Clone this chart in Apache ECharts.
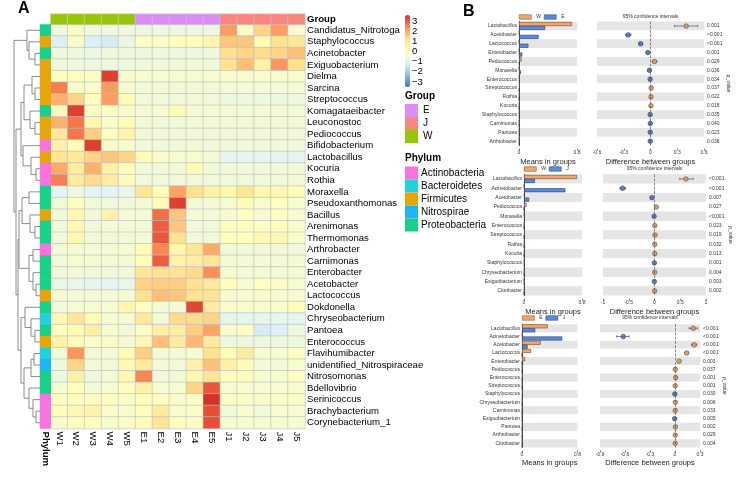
<!DOCTYPE html>
<html>
<head>
<meta charset="utf-8">
<script src="https://cdn.jsdelivr.net/npm/echarts@6/dist/echarts.min.js"></script>
<style>
html, body { margin: 0; padding: 0; background: #fff; }
#main { width: 743px; height: 479px; }
</style>
</head>
<body>
<div id="main"></div>
<script>
var chartDom = document.getElementById('main');
var myChart = echarts.init(chartDom);

// ---------- panel A data ----------
var samples = ['W1','W2','W3','W4','W5','E1','E2','E3','E4','E5','J1','J2','J3','J4','J5'];
var sampleGroup = [2,2,2,2,2,0,0,0,0,0,1,1,1,1,1];   // index into groupNames
var groupNames = ['E','J','W'];
var phylumNames = ['Actinobacteria','Bacteroidetes','Firmicutes','Nitrospirae','Proteobacteria'];

var genera = ['Candidatus_Nitrotoga','Staphylococcus','Acinetobacter','Exiguobacterium','Dielma','Sarcina',
  'Streptococcus','Komagataeibacter','Leuconostoc','Pediococcus','Bifidobacterium','Lactobacillus','Kocuria',
  'Rothia','Moraxella','Pseudoxanthomonas','Bacillus','Arenimonas','Thermomonas','Arthrobacter','Carnimonas',
  'Enterobacter','Acetobacter','Lactococcus','Dokdonella','Chryseobacterium','Pantoea','Enterococcus',
  'Flavihumibacter','unidentified_Nitrospiraceae','Nitrosomonas','Bdellovibrio','Serinicoccus',
  'Brachybacterium','Corynebacterium_1'];
var generaPhylum = [4,2,4,2,2,2,2,4,2,2,0,2,0,0,4,4,2,4,4,0,4,4,4,2,4,1,4,2,1,3,4,4,0,0,0];

// z-scores, columns W1..W5, E1..E5, J1..J5
var zscore = [
  [-0.6,-0.1,-0.6,-0.6,-0.6, -0.6,-0.6,-0.6,-0.6,-0.6, 2.2,-0.1,1.4,2.2,-0.3],
  [-1.2,-0.2,-1.2,-1.3,-0.7, 0.0,-0.1,0.1,0.1,0.4, 1.6,1.6,0.2,1.2,1.0],
  [-0.6,-0.6,-0.7,-0.6,-0.6, -0.6,-0.6,-0.6,-0.6,-0.6, 1.2,1.4,1.3,1.4,1.7],
  [-0.6,-0.6,-0.6,-0.6,-0.6, -0.5,-0.5,-0.5,-0.5,-0.5, 1.1,1.7,0.6,2.3,1.2],
  [0.0,0.0,-0.1,3.4,-0.2, -0.3,-0.3,-0.3,-0.3,-0.3, -0.2,-0.2,-0.2,-0.2,-0.2],
  [2.6,-0.1,-0.2,2.2,-0.3, -0.5,-0.5,-0.5,-0.5,-0.5, -0.4,-0.4,-0.4,-0.4,-0.4],
  [1.9,1.4,0.0,2.2,0.2, -0.5,-0.5,-0.5,-0.5,-0.5, -0.6,-0.6,-0.6,-0.6,-0.6],
  [0.2,3.4,0.0,0.0,-0.2, -0.4,-0.3,0.2,-0.4,-0.4, -0.4,-0.4,-0.4,-0.4,-0.4],
  [1.9,2.7,0.4,-0.1,0.2, -0.5,-0.5,-0.5,-0.5,-0.5, -0.5,-0.5,-0.5,-0.5,-0.5],
  [1.0,2.7,1.5,0.0,0.5, -0.5,-0.5,-0.5,-0.5,-0.5, -0.5,-0.5,-0.5,-0.5,-0.5],
  [0.6,0.1,3.4,-0.2,-0.2, -0.5,-0.5,-0.5,-0.5,-0.5, -0.5,-0.5,-0.5,-0.5,-0.5],
  [1.0,0.9,1.4,1.6,1.4, 0.2,-0.2,-0.3,-0.3,-0.4, -0.9,-0.9,-0.9,-0.9,-1.0],
  [2.0,0.7,1.9,0.6,0.1, -0.5,-0.5,-0.5,0.2,-0.5, -0.5,-0.5,-0.5,-0.5,-0.5],
  [2.6,0.8,1.3,0.7,0.2, -0.5,-0.5,-0.5,-0.5,-0.5, -0.5,-0.5,-0.5,-0.5,-0.5],
  [-1.0,-0.6,-1.0,-1.0,-0.8, 1.0,0.2,2.1,1.2,0.6, 0.4,1.0,0.4,0.3,0.2],
  [-0.5,0.1,-0.5,-0.5,-0.5, -0.4,0.2,3.4,-0.4,-0.4, -0.3,0.2,-0.3,0.0,-0.3],
  [-0.5,0.4,-0.5,0.5,-0.4, -0.4,2.8,1.6,-0.4,-0.4, -0.3,0.0,-0.3,0.0,-0.3],
  [-0.5,0.3,-0.5,-0.4,-0.4, -0.4,3.0,1.6,-0.5,-0.5, 0.0,0.0,0.0,0.1,-0.2],
  [-0.5,0.4,-0.5,-0.5,-0.5, -0.5,3.1,1.2,-0.5,-0.5, 0.1,0.1,0.3,0.3,-0.2],
  [-0.4,-0.4,-0.4,-0.4,-0.3, 0.2,2.5,0.4,1.0,2.0, -0.5,-0.5,-0.5,-0.5,-0.5],
  [-0.4,-0.3,-0.4,-0.4,-0.4, 0.2,3.0,0.6,0.7,1.0, -0.4,-0.4,-0.4,-0.4,-0.4],
  [-0.5,-0.5,-0.5,-0.5,-0.5, 1.0,1.1,1.1,1.3,2.4, -0.3,-0.4,-0.4,-0.4,-0.4],
  [-0.8,-0.8,-0.9,-0.9,-0.8, 1.4,1.5,1.5,1.2,0.9, 0.1,-0.3,0.0,-0.1,-0.3],
  [-0.4,-0.4,-0.4,-0.4,-0.4, 1.2,1.7,1.6,1.1,1.1, -0.3,-0.3,-0.3,-0.3,-0.3],
  [-0.4,-0.3,-0.3,-0.3,0.4, 0.0,-0.4,-0.4,3.3,0.8, -0.2,-0.2,-0.2,-0.2,0.2],
  [0.3,1.0,0.2,-0.3,-0.3, 0.9,-0.4,1.3,1.3,1.4, -0.9,-0.9,-0.9,-0.9,-0.9],
  [0.1,0.2,0.7,-0.3,-0.5, -0.1,0.7,0.7,1.5,2.1, -0.3,0.0,-1.3,-1.2,-0.6],
  [0.6,0.2,-0.1,-0.2,-0.4, 0.3,1.7,0.8,1.8,0.8, -0.6,-0.6,-0.6,-0.6,-0.6],
  [-0.4,2.3,-0.4,-0.4,0.2, 1.5,-0.4,-0.4,-0.3,1.2, 0.2,0.8,-0.3,-0.3,0.0],
  [-0.6,1.4,-0.5,-0.5,0.3, 0.9,-0.4,-0.5,0.6,1.7, 0.6,0.2,-0.4,-0.4,-0.2],
  [-0.6,0.6,-0.6,-0.4,0.4, 2.5,-0.5,-0.5,0.4,1.0, 0.1,0.2,-0.3,-0.3,0.0],
  [-0.3,0.1,-0.4,-0.3,0.1, 0.6,-0.3,-0.3,1.4,3.1, -0.3,-0.3,-0.3,-0.3,-0.3],
  [0.0,0.1,0.0,0.0,-0.1, 0.1,0.0,-0.2,0.0,3.6, -0.1,-0.1,-0.2,-0.1,-0.1],
  [0.1,0.3,0.5,-0.1,-0.2, 0.1,0.8,-0.2,-0.1,3.2, -0.5,-0.2,-0.5,-0.3,-0.3],
  [-0.2,0.1,0.1,-0.2,-0.1, 0.2,1.0,0.1,-0.1,3.2, -0.3,-0.3,-0.3,-0.3,-0.3]
];

// row dendrogram: [child, child, height]; 'rN' = row N, 'mN' = merge N
var merges = [
  ['r2','r3',5], ['r1','m0',11], ['r0','m1',13],
  ['r5','r6',5], ['r4','m3',8], ['r8','r9',5], ['r7','m5',10], ['m4','m6',16],
  ['r12','r13',4], ['r11','m8',9], ['r10','m9',17], ['m7','m10',19],
  ['r14','r15',11], ['r17','r18',5], ['r16','m13',10], ['m12','m14',18],
  ['r19','r20',7], ['r22','r23',4], ['r21','m17',7], ['m16','m18',11], ['m15','m19',21],
  ['r26','r27',5], ['r25','m21',9], ['r24','m22',15],
  ['r28','r29',6], ['m24','r30',9], ['r33','r34',4], ['r32','m26',7], ['r31','m27',11],
  ['m25','m28',16], ['m23','m29',19], ['m20','m30',22], ['m11','m31',24], ['m2','m32',26]
];

var heatTicks = [-3, 3];

// ---------- panel B data ----------
var b1Taxa = ['Lactobacillus','Acetobacter','Lactococcus','Enterobacter','Pediococcus','Moraxella','Enterococcus',
  'Streptococcus','Rothia','Kocuria','Staphylococcus','Carnimonas','Pantoea','Arthrobacter'];
var b1MeanW = [0.73,0.004,0.003,0.003,0.035,0.002,0.003,0.012,0.006,0.006,0.003,0.002,0.002,0.002];
var b1MeanE = [0.36,0.27,0.13,0.045,0.005,0.025,0.01,0.003,0.001,0.001,0.008,0.004,0.006,0.005];
var b1Diff = [0.40,-0.25,-0.11,-0.03,0.045,-0.012,-0.004,0.008,0.005,0.005,-0.004,-0.002,-0.003,-0.003];
var b1Lo = [0.27,-0.28,-0.13,-0.04,0.02,-0.02,-0.01,0.0,0.0,0.0,-0.01,-0.007,-0.008,-0.008];
var b1Hi = [0.53,-0.22,-0.09,-0.02,0.07,-0.004,0.002,0.016,0.01,0.01,0.002,0.003,0.002,0.002];
var b1P = ['0.001','<0.001','<0.001','0.001','0.029','0.036','0.034','0.037','0.022','0.018','0.035','0.040','0.023','0.036'];

var b2Taxa = ['Lactobacillus','Acinetobacter','Acetobacter','Pediococcus','Moraxella','Enterococcus','Streptococcus',
  'Rothia','Kocuria','Staphylococcus','Chryseobacterium','Exiguobacterium','Citrobacter'];
var b2MeanW = [0.73,0.003,0.006,0.035,0.002,0.005,0.012,0.006,0.006,0.003,0.004,0.001,0.004];
var b2MeanJ = [0.15,0.57,0.07,0.002,0.01,0.001,0.001,0.001,0.001,0.006,0.001,0.005,0.001];
var b2Diff = [0.61,-0.62,-0.05,0.035,-0.008,0.005,0.01,0.005,0.005,-0.003,0.004,-0.004,0.003];
var b2Lo = [0.49,-0.67,-0.08,0.02,-0.015,0.0,0.0,0.0,0.0,-0.008,-0.001,-0.009,-0.002];
var b2Hi = [0.75,-0.56,-0.03,0.05,-0.002,0.01,0.02,0.01,0.01,0.002,0.009,0.001,0.008];
var b2P = ['<0.001','<0.001','0.007','0.027','<0.001','0.023','0.019','0.032','0.013','0.001','0.004','0.003','0.002'];

var b3Taxa = ['Lactobacillus','Acinetobacter','Acetobacter','Lactococcus','Enterobacter','Pediococcus','Enterococcus',
  'Streptococcus','Staphylococcus','Chryseobacterium','Carnimonas','Exiguobacterium','Pantoea','Arthrobacter','Citrobacter'];
var b3MeanE = [0.37,0.005,0.27,0.13,0.045,0.004,0.01,0.003,0.008,0.004,0.004,0.001,0.006,0.005,0.003];
var b3MeanJ = [0.19,0.58,0.08,0.002,0.001,0.001,0.001,0.001,0.006,0.001,0.001,0.005,0.001,0.001,0.001];
var b3Diff = [0.22,-0.62,0.23,0.14,0.05,0.003,0.008,0.003,-0.002,0.004,0.003,-0.004,0.005,0.004,0.003];
var b3Lo = [0.17,-0.70,0.20,0.12,0.04,-0.003,0.0,-0.003,-0.008,-0.002,-0.003,-0.009,-0.001,-0.002,-0.003];
var b3Hi = [0.27,-0.55,0.26,0.16,0.06,0.009,0.016,0.009,0.004,0.01,0.009,0.001,0.011,0.01,0.009];
var b3P = ['<0.001','<0.001','<0.001','<0.001','0.003','0.037','0.001','0.001','0.030','0.006','0.033','0.005','0.002','0.029','0.004'];

// ---------- styles ----------
var heatColors = ['#4575B4','#91BFDB','#E0F3F8','#FFFFBF','#FEE090','#FC8D59','#D73027'];
var groupColors = ['#DA8EF3','#F7877F','#97C50C'];
var phylumColors = ['#F873DE','#20D2DE','#E6A60B','#1CB5F7','#18D189'];
var orange = '#F2A66C', orangeDark = '#7A4520';
var blue = '#5A8BDA', blueDark = '#203A70';
var dotOrange = '#DC9A62', dotOrangeDark = '#6A4426';
var dotBlue = '#4D6CB3', dotBlueDark = '#22386E';
var font = 'Liberation Sans, Arial, sans-serif';

var X0 = 50.7, W0 = 254.3, Y0 = 24.5, H0 = 404;

var heatData = [];
zscore.forEach(function (row, r) {
  row.forEach(function (v, c) { heatData.push([c, r, v]); });
});
var groupData = sampleGroup.map(function (g, c) { return [c, 0, g]; });
var phylumData = generaPhylum.map(function (p, r) { return [0, r, p]; });

// dendrogram segments
var nodePos = {};
function nodeOf(k) {
  if (k[0] === 'r') return { y: +k.slice(1), h: 0 };
  return nodePos[k];
}
var dendroData = merges.map(function (m, i) {
  var a = nodeOf(m[0]), b = nodeOf(m[1]);
  nodePos['m' + i] = { y: (a.y + b.y) / 2, h: m[2] };
  return [a.h, a.y, b.h, b.y, m[2]];
});

var grids = [
  { left: X0, top: Y0, width: W0, height: H0 },          // 0 heatmap
  { left: X0, top: 14, width: W0, height: 10.5 },         // 1 group bar
  { left: 40, top: Y0, width: X0 - 40, height: H0 },      // 2 phylum column
  { left: 14, top: Y0, width: 26, height: H0 },           // 3 dendrogram
  { left: 405, top: 21.1, width: 5, height: 60.8 }        // 4 colorbar ticks
];
var xAxes = [
  { gridIndex: 0, type: 'category', data: samples, position: 'bottom',
    axisLine: { show: false }, axisTick: { show: false },
    axisLabel: { interval: 0, rotate: -90, fontSize: 9.6, color: '#000', margin: 3 } },
  { gridIndex: 1, type: 'category', data: samples, show: false },
  { gridIndex: 2, type: 'category', data: ['Phylum'], position: 'bottom',
    axisLine: { show: false }, axisTick: { show: false },
    axisLabel: { rotate: -90, fontSize: 9.6, fontWeight: 'bold', color: '#000', margin: 3 } },
  { gridIndex: 3, type: 'value', min: 0, max: 26, inverse: true, show: false },
  { gridIndex: 4, type: 'value', show: false }
];
var yAxes = [
  { gridIndex: 0, type: 'category', data: genera, inverse: true, position: 'right',
    axisLine: { show: false }, axisTick: { show: false },
    axisLabel: { interval: 0, fontSize: 9.6, color: '#000', margin: 2 } },
  { gridIndex: 1, type: 'category', data: ['Group'], position: 'right',
    axisLine: { show: false }, axisTick: { show: false },
    axisLabel: { fontSize: 9.6, fontWeight: 'bold', color: '#000', margin: 2 } },
  { gridIndex: 2, type: 'category', data: genera, inverse: true, show: false },
  { gridIndex: 3, type: 'value', min: -0.5, max: genera.length - 0.5, inverse: true, show: false },
  { gridIndex: 4, type: 'value', min: heatTicks[0], max: heatTicks[1], interval: 1, position: 'right',
    axisLine: { show: false }, axisTick: { show: false }, splitLine: { show: false },
    axisLabel: { fontSize: 9.6, color: '#000', margin: 2,
      formatter: function (v) { return String(v).replace('-', '\u2212'); } } }
];

var series = [
  { type: 'heatmap', xAxisIndex: 0, yAxisIndex: 0, data: heatData,
    itemStyle: { borderColor: '#bdbdbd', borderWidth: 0.6 } },
  { type: 'heatmap', xAxisIndex: 1, yAxisIndex: 1, data: groupData,
    itemStyle: { borderColor: '#d0d0d0', borderWidth: 0.5 } },
  { type: 'heatmap', xAxisIndex: 2, yAxisIndex: 2, data: phylumData },
  { type: 'custom', xAxisIndex: 3, yAxisIndex: 3, data: dendroData,
    encode: { x: [0, 2, 4], y: [1, 3] },
    renderItem: function (params, api) {
      var h = api.value(4);
      var pts = [
        api.coord([api.value(0), api.value(1)]),
        api.coord([h, api.value(1)]),
        api.coord([h, api.value(3)]),
        api.coord([api.value(2), api.value(3)])
      ];
      return { type: 'polyline', shape: { points: pts },
        style: { stroke: '#707070', lineWidth: 0.8, fill: null } };
    } }
];

var visualMaps = [
  { type: 'continuous', seriesIndex: 0, dimension: 2, min: -3.5, max: 3.6, calculable: false,
    inRange: { color: heatColors }, itemWidth: 5, itemHeight: 72, left: 405, top: 15, padding: 0 },
  { type: 'piecewise', seriesIndex: 1, dimension: 2, orient: 'vertical', inverse: true, align: 'left',
    pieces: groupNames.map(function (g, i) { return { value: i, label: g, color: groupColors[i] }; }),
    left: 405, top: 104, itemWidth: 13, itemHeight: 13, itemGap: 0, itemSymbol: 'rect', textGap: 5,
    padding: 0, selectedMode: false, textStyle: { fontSize: 10, color: '#000' } },
  { type: 'piecewise', seriesIndex: 2, dimension: 2, orient: 'vertical', inverse: true, align: 'left',
    pieces: phylumNames.map(function (p, i) { return { value: i, label: p, color: phylumColors[i] }; }),
    left: 405, top: 166.5, itemWidth: 13, itemHeight: 13, itemGap: 0, itemSymbol: 'rect', textGap: 3,
    padding: 0, selectedMode: false, textStyle: { fontSize: 10, color: '#000' } }
];

var titles = [
  { text: 'A', left: 18, top: 1, padding: 0, textStyle: { fontSize: 16, fontWeight: 'bold', color: '#000' } },
  { text: 'B', left: 463, top: 4, padding: 0, textStyle: { fontSize: 16, fontWeight: 'bold', color: '#000' } },
  { text: 'Group', left: 405, top: 91, padding: 0, textStyle: { fontSize: 10, fontWeight: 'bold', color: '#000' } },
  { text: 'Phylum', left: 405, top: 153, padding: 0, textStyle: { fontSize: 10, fontWeight: 'bold', color: '#000' } }
];
var legends = [];

// ---------- panel B subplots ----------
var subs = [
  { taxa: b1Taxa, a: b1MeanW, b: b1MeanE, diff: b1Diff, lo: b1Lo, hi: b1Hi, p: b1P, names: ['W', 'E'] },
  { taxa: b2Taxa, a: b2MeanW, b: b2MeanJ, diff: b2Diff, lo: b2Lo, hi: b2Hi, p: b2P, names: ['W', 'J'] },
  { taxa: b3Taxa, a: b3MeanE, b: b3MeanJ, diff: b3Diff, lo: b3Lo, hi: b3Hi, p: b3P, names: ['E', 'J'] }
];
var layouts = [
  { top: 21.6, height: 124, barLeft: 519, barWidth: 58, barMax: 0.8, difLeft: 597, difWidth: 107,
    difMin: -0.6, difMax: 0.6, difStep: 0.3, legTop: 14.5, legLeft: 519 },
  { top: 174.3, height: 121.3, barLeft: 524, barWidth: 58, barMax: 0.8, difLeft: 603, difWidth: 103,
    difMin: -1, difMax: 1, difStep: 0.5, legTop: 166.5, legLeft: 524 },
  { top: 324.2, height: 123.2, barLeft: 522, barWidth: 55.5, barMax: 0.8, difLeft: 600, difWidth: 100,
    difMin: -0.9, difMax: 0.3, difStep: 0.3, legTop: 315.5, legLeft: 522 }
];

var smallAxis = { lineStyle: { color: '#222', width: 0.8 } };

subs.forEach(function (s, k) {
  var L = layouts[k];
  var gL = grids.length, gR = gL + 1;
  var xL = xAxes.length, xR = xL + 1;
  var yL = yAxes.length, yR = yL + 1;
  grids.push({ left: L.barLeft, top: L.top, width: L.barWidth, height: L.height });
  grids.push({ left: L.difLeft, top: L.top, width: L.difWidth, height: L.height });

  xAxes.push({ gridIndex: gL, type: 'value', min: 0, max: L.barMax, interval: L.barMax, offset: 3,
    axisLine: smallAxis, axisTick: { show: true, length: 2, lineStyle: { color: '#222', width: 0.6 } },
    splitLine: { show: false },
    axisLabel: { fontSize: 5, color: '#333', margin: 2 },
    name: 'Means in groups', nameLocation: 'middle', nameGap: 9,
    nameTextStyle: { fontSize: 7.5, color: '#222' } });
  xAxes.push({ gridIndex: gR, type: 'value', min: L.difMin, max: L.difMax, interval: L.difStep, offset: 3,
    axisLine: smallAxis, axisTick: { show: true, length: 2, lineStyle: { color: '#222', width: 0.6 } },
    splitLine: { show: false },
    axisLabel: { fontSize: 5, color: '#333', margin: 2 },
    name: 'Difference between groups', nameLocation: 'middle', nameGap: 9,
    nameTextStyle: { fontSize: 7.5, color: '#222' } });

  yAxes.push({ gridIndex: gL, type: 'category', data: s.taxa, inverse: true,
    axisLine: smallAxis, axisTick: { show: false },
    axisLabel: { interval: 0, fontSize: 5, color: '#333', margin: 2 },
    splitArea: { show: true, interval: 0, areaStyle: { color: ['#E5E5E5', '#FFFFFF'] } } });
  yAxes.push({ gridIndex: gR, type: 'category', data: s.taxa, inverse: true,
    axisLine: { show: false }, axisTick: { show: false }, axisLabel: { show: false },
    splitArea: { show: true, interval: 0, areaStyle: { color: ['#E5E5E5', '#FFFFFF'] } } });
  yAxes.push({ gridIndex: gR, type: 'category', data: s.taxa, inverse: true, position: 'right',
    axisLine: { show: false }, axisTick: { show: false },
    axisLabel: { interval: 0, fontSize: 5, color: '#333', margin: 3,
      formatter: function (v, i) { return s.p[i]; } },
    name: 'p_value', nameLocation: 'middle', nameRotate: -90, nameGap: 22,
    nameTextStyle: { fontSize: 5, color: '#333' } });

  series.push({ name: s.names[0], type: 'bar', xAxisIndex: xL, yAxisIndex: yL, data: s.a,
    barWidth: 4, barGap: '0%',
    itemStyle: { color: orange, borderColor: orangeDark, borderWidth: 0.6 } });
  series.push({ name: s.names[1], type: 'bar', xAxisIndex: xL, yAxisIndex: yL, data: s.b,
    barWidth: 4, barGap: '0%',
    itemStyle: { color: blue, borderColor: blueDark, borderWidth: 0.6 } });

  series.push({ type: 'custom', xAxisIndex: xR, yAxisIndex: yR,
    data: s.taxa.map(function (t, i) { return [s.lo[i], s.hi[i], i]; }),
    encode: { x: [0, 1], y: 2 },
    renderItem: function (params, api) {
      var p1 = api.coord([api.value(0), api.value(2)]);
      var p2 = api.coord([api.value(1), api.value(2)]);
      var st = { stroke: '#555', lineWidth: 0.7 };
      return { type: 'group', children: [
        { type: 'line', shape: { x1: p1[0], y1: p1[1], x2: p2[0], y2: p2[1] }, style: st },
        { type: 'line', shape: { x1: p1[0], y1: p1[1] - 1.2, x2: p1[0], y2: p1[1] + 1.2 }, style: st },
        { type: 'line', shape: { x1: p2[0], y1: p2[1] - 1.2, x2: p2[0], y2: p2[1] + 1.2 }, style: st }
      ] };
    } });
  series.push({ type: 'scatter', xAxisIndex: xR, yAxisIndex: yR,
    data: s.diff.map(function (d, i) {
      var up = d > 0;
      return { value: [d, i], itemStyle: {
        color: up ? dotOrange : dotBlue, borderColor: up ? dotOrangeDark : dotBlueDark, borderWidth: 0.8 } };
    }),
    symbolSize: 4.5,
    markLine: { silent: true, symbol: 'none', label: { show: false },
      lineStyle: { type: 'dashed', color: '#555', width: 0.7 },
      data: [{ xAxis: 0 }] } });

  legends.push({ left: L.legLeft, top: L.legTop, padding: 0, itemWidth: 12, itemHeight: 4.5, itemGap: 3,
    selectedMode: false, icon: 'rect', textStyle: { fontSize: 5, color: '#333' },
    data: [
      { name: s.names[0], itemStyle: { color: orange, borderColor: orangeDark, borderWidth: 0.5 } },
      { name: s.names[1], itemStyle: { color: blue, borderColor: blueDark, borderWidth: 0.5 } }
    ] });

  titles.push({ text: '95% confidence intervals', left: L.difLeft + L.difWidth / 2, textAlign: 'center',
    top: L.legTop, padding: 0, textStyle: { fontSize: 5, fontWeight: 'normal', color: '#333' } });
});

var option = {
  animation: false,
  textStyle: { fontFamily: font },
  title: titles,
  legend: legends,
  grid: grids,
  xAxis: xAxes,
  yAxis: yAxes,
  visualMap: visualMaps,
  series: series
};

option && myChart.setOption(option);
</script>
</body>
</html>
